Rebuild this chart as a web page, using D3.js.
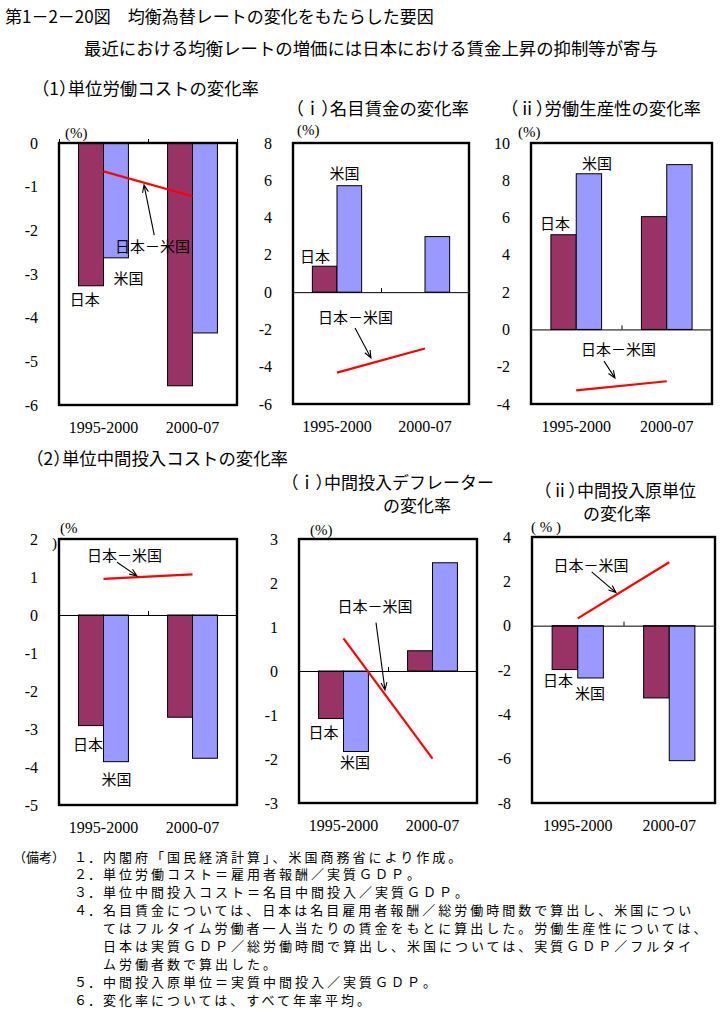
<!DOCTYPE html>
<html><head><meta charset="utf-8">
<script src="https://cdn.jsdelivr.net/npm/d3@7"></script>
<style>
body{margin:0;background:#fff;}
svg text{font-family:"Noto Sans CJK JP","Noto Sans",sans-serif;fill:#000;}
.num{font-family:"Liberation Serif","DejaVu Serif",serif;}
.ttl{font-feature-settings:"halt";}
</style></head><body>
<svg id="c" width="722" height="1013"></svg>
<script>
// ---- data ----
const categories = ["1995-2000", "2000-07"];
const seriesNames = ["日本", "米国"];
// (1) 単位労働コストの変化率
const ulcJapan = [-3.27, -5.56];
const ulcUS    = [-2.63, -4.35];
const ulcDiff  = [-0.65, -1.22];
// (1)(i) 名目賃金の変化率
const wageJapan = [1.39, 0.0];
const wageUS    = [5.71, 2.98];
const wageDiff  = [-4.32, -3.02];
// (1)(ii) 労働生産性の変化率
const prodJapan = [5.08, 6.05];
const prodUS    = [8.35, 8.84];
const prodDiff  = [-3.27, -2.78];
// (2) 単位中間投入コストの変化率
const uicJapan = [-2.91, -2.69];
const uicUS    = [-3.86, -3.77];
const uicDiff  = [0.95, 1.07];
// (2)(i) 中間投入デフレーターの変化率
const deflJapan = [-1.08, 0.46];
const deflUS    = [-1.83, 2.46];
const deflDiff  = [0.74, -1.99];
// (2)(ii) 中間投入原単位の変化率
const coefJapan = [-1.98, -3.26];
const coefUS    = [-2.36, -6.09];
const coefDiff  = [0.33, 2.86];
// tick labels
const ticks1 = [0, -1, -2, -3, -4, -5, -6];
const ticks2 = [8, 6, 4, 2, 0, -2, -4, -6];
const ticks3 = [10, 8, 6, 4, 2, 0, -2, -4];
const ticks4 = [2, 1, 0, -1, -2, -3, -4, -5];
const ticks5 = [3, 2, 1, 0, -1, -2, -3];
const ticks6 = [4, 2, 0, -2, -4, -6, -8];

const notes = [
  {n:"１．", t:"内閣府「国民経済計算」、米国商務省により作成。"},
  {n:"２．", t:"単位労働コスト＝雇用者報酬／実質ＧＤＰ。"},
  {n:"３．", t:"単位中間投入コスト＝名目中間投入／実質ＧＤＰ。"},
  {n:"４．", t:"名目賃金については、日本は名目雇用者報酬／総労働時間数で算出し、米国につい"},
  {n:"", t:"てはフルタイム労働者一人当たりの賃金をもとに算出した。労働生産性については、"},
  {n:"", t:"日本は実質ＧＤＰ／総労働時間で算出し、米国については、実質ＧＤＰ／フルタイ"},
  {n:"", t:"ム労働者数で算出した。"},
  {n:"５．", t:"中間投入原単位＝実質中間投入／実質ＧＤＰ。"},
  {n:"６．", t:"変化率については、すべて年率平均。"}
];

// ---- layout ----
const panels = [
 {x:59, y:143, w:178, h:262, ticks:ticks1, jp:ulcJapan, us:ulcUS, diff:ulcDiff,
  pct:[{t:"(%)", x:65, y:133}],
  labels:[{t:"日本－米国",px:1.05,v:-2.34},{t:"米国",px:0.78,v:-3.07},{t:"日本",px:0.29,v:-3.55}],
  arrow:[[1.07,-2.11],[0.955,-0.96]]},
 {x:293, y:143, w:176, h:261, ticks:ticks2, jp:wageJapan, us:wageUS, diff:wageDiff,
  pct:[{t:"(%)", x:297, y:130}],
  labels:[{t:"米国",px:0.585,v:6.44},{t:"日本",px:0.25,v:1.99},{t:"日本－米国",px:0.71,v:-1.33}],
  arrow:[[0.705,-1.92],[0.886,-3.53]]},
 {x:531, y:143, w:181, h:261, ticks:ticks3, jp:prodJapan, us:prodUS, diff:prodDiff,
  pct:[{t:"(%)", x:518, y:132}],
  labels:[{t:"米国",px:0.73,v:8.93},{t:"日本",px:0.265,v:5.71},{t:"日本－米国",px:0.967,v:-1.0}],
  arrow:[[0.807,-1.70],[0.928,-2.61]]},
 {x:59, y:539, w:178, h:266, ticks:ticks4, jp:uicJapan, us:uicUS, diff:uicDiff,
  pct:[{t:"(%", x:60, y:528},{t:")", x:52, y:543}],
  labels:[{t:"日本－米国",px:0.736,v:1.58},{t:"日本",px:0.326,v:-3.39},{t:"米国",px:0.646,v:-4.29}],
  arrow:[[0.652,1.39],[0.876,1.03]]},
 {x:299, y:539, w:178, h:264, ticks:ticks5, jp:deflJapan, us:deflUS, diff:deflDiff,
  pct:[{t:"(%)", x:310, y:530}],
  labels:[{t:"日本－米国",px:0.854,v:1.48},{t:"日本",px:0.275,v:-1.38},{t:"米国",px:0.63,v:-2.06}],
  arrow:[[0.865,1.10],[0.966,-0.43]]},
 {x:532, y:537, w:183, h:266, ticks:ticks6, jp:coefJapan, us:coefUS, diff:coefDiff,
  pct:[{t:"( % )", x:531, y:527}],
  labels:[{t:"日本－米国",px:0.645,v:2.78},{t:"日本",px:0.284,v:-2.43},{t:"米国",px:0.634,v:-3.0}],
  arrow:[[0.652,2.43],[0.918,1.49]]}
];

const titles = [
  {t:"第1－2－20図　均衡為替レートの変化をもたらした要因", x:5, y:15, a:"start", s:17},
  {t:"最近における均衡レートの増価には日本における賃金上昇の抑制等が寄与", x:84, y:47, a:"start", s:17.4},
  {t:"（1）単位労働コストの変化率", x:259, y:87, a:"end", s:17.4},
  {t:"（ｉ）名目賃金の変化率", x:469, y:107, a:"end", s:17.4},
  {t:"（ⅱ）労働生産性の変化率", x:701, y:107, a:"end", s:17.4},
  {t:"（2）単位中間投入コストの変化率", x:288, y:457, a:"end", s:17.4},
  {t:"（ｉ）中間投入デフレーター", x:494, y:481, a:"end", s:17},
  {t:"の変化率", x:451, y:504, a:"end", s:17},
  {t:"（ⅱ）中間投入原単位", x:696, y:489, a:"end", s:17},
  {t:"の変化率", x:651, y:512, a:"end", s:17}
];

const svg = d3.select("#c");
svg.append("rect").attr("width",722).attr("height",1013).attr("fill","#fff");

svg.selectAll("text.ttl").data(titles).join("text").attr("class","ttl")
  .attr("x",d=>d.x).attr("y",d=>d.y).attr("text-anchor",d=>d.a)
  .attr("dominant-baseline","central").attr("font-size",d=>d.s).text(d=>d.t);

const colors = {"日本":"#993366","米国":"#9999FF"};

function arrowPath(x1,y1,x2,y2){
  const a = Math.atan2(y2-y1,x2-x1), L=8, s=0.38;
  const p1=[x2-L*Math.cos(a-s), y2-L*Math.sin(a-s)], p2=[x2-L*Math.cos(a+s), y2-L*Math.sin(a+s)];
  return `M${x1},${y1}L${x2},${y2}M${p1[0]},${p1[1]}L${x2},${y2}L${p2[0]},${p2[1]}`;
}

panels.forEach(cfg=>{
  const g = svg.append("g").attr("transform",`translate(${cfg.x},${cfg.y})`);
  const w=cfg.w, h=cfg.h;
  const y = d3.scaleLinear().domain([d3.min(cfg.ticks), d3.max(cfg.ticks)]).range([h,0]);
  const x0 = d3.scaleBand().domain(categories).range([0,w]).paddingInner(0.44).paddingOuter(0.22);
  const x1 = d3.scaleBand().domain(seriesNames).range([0,x0.bandwidth()]);
  const pos = d3.scaleLinear().domain([0,2]).range([0,w]);
  const rows = categories.map((c,i)=>({c, vals:[{s:"日本",v:cfg.jp[i]},{s:"米国",v:cfg.us[i]}]}));

  g.selectAll("g.cat").data(rows).join("g").attr("class","cat")
    .attr("transform",d=>`translate(${x0(d.c)},0)`)
    .selectAll("rect").data(d=>d.vals).join("rect")
    .attr("x",d=>x1(d.s)).attr("width",x1.bandwidth())
    .attr("y",d=>y(Math.max(0,d.v))).attr("height",d=>Math.abs(y(d.v)-y(0)))
    .attr("fill",d=>colors[d.s]).attr("stroke","#000").attr("stroke-width",1);

  // zero axis with category separator ticks
  const ax = g.append("g").attr("transform",`translate(0,${y(0)})`)
    .call(d3.axisTop(pos).tickValues([0,1,2]).tickSize(4).tickSizeOuter(0).tickFormat(""));
  ax.select(".domain").attr("stroke","#000").attr("stroke-width",1);
  ax.selectAll(".tick line").attr("stroke","#000");

  // difference line
  g.append("path").datum(cfg.diff)
    .attr("d", d3.line().x((d,i)=>x0(categories[i])+x0.bandwidth()/2).y(d=>y(d)))
    .attr("fill","none").attr("stroke","#ff0000").attr("stroke-width",2.2);

  // frame
  g.append("rect").attr("width",w).attr("height",h).attr("fill","none")
    .attr("stroke","#000").attr("stroke-width",2.4);

  // y axis labels
  const ya = g.append("g").call(d3.axisLeft(y).tickValues(cfg.ticks).tickSize(0).tickPadding(21).tickFormat(d=>String(d)));
  ya.select(".domain").remove();
  ya.selectAll("text").attr("class","num").attr("font-size",16).attr("font-family",null);

  // x labels
  g.selectAll("text.xl").data(categories).join("text").attr("class","num xl")
    .attr("x",d=>x0(d)+x0.bandwidth()/2).attr("y",h+22).attr("dy","0.35em")
    .attr("text-anchor","middle").attr("font-size",16).text(d=>d);

  // annotations
  g.selectAll("text.lab").data(cfg.labels).join("text").attr("class","lab")
    .attr("x",d=>pos(d.px)).attr("y",d=>y(d.v)).attr("text-anchor","middle")
    .attr("dominant-baseline","central").attr("font-size",15).text(d=>d.t);
  g.append("path").attr("d",arrowPath(pos(cfg.arrow[0][0]),y(cfg.arrow[0][1]),pos(cfg.arrow[1][0]),y(cfg.arrow[1][1])))
    .attr("fill","none").attr("stroke","#000").attr("stroke-width",1.1);

  svg.selectAll(null).data(cfg.pct).join("text").attr("class","num")
    .attr("x",d=>d.x).attr("y",d=>d.y).attr("dy","0.35em").attr("font-size",15).text(d=>d.t);
});

// notes
svg.append("text").attr("x",13).attr("y",856).attr("dominant-baseline","central")
  .attr("font-size",13).text("（備考）");
notes.forEach((d,i)=>{
  const yy = 856 + i*17.9;
  if(d.n) svg.append("text").attr("x",74).attr("y",yy).attr("dominant-baseline","central")
    .attr("font-size",13).attr("letter-spacing",1).text(d.n);
  svg.append("text").attr("x",103).attr("y",yy).attr("dominant-baseline","central")
    .attr("font-size",13).attr("letter-spacing",3).text(d.t);
});
</script>
</body></html>
